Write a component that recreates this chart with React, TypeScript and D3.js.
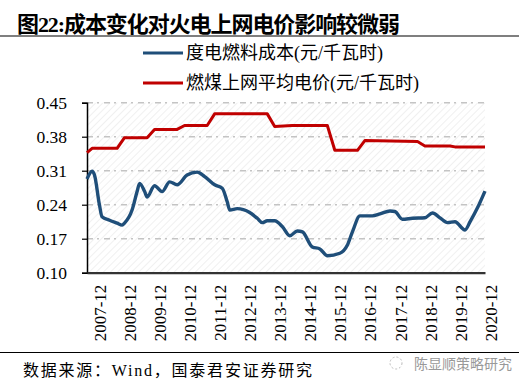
import { useEffect, useRef } from 'react';
import * as d3 from 'd3';

const W = 523;
const H = 388;

const title = '图22:成本变化对火电上网电价影响较微弱';
const source = '数据来源：Wind，国泰君安证券研究';
const watermark = '陈显顺策略研究';

const seriesNames = ['度电燃料成本(元/千瓦时)', '燃煤上网平均电价(元/千瓦时)'];
const seriesColors = ['#1F4E79', '#C00000'];

const yTicks = [0.1, 0.17, 0.24, 0.31, 0.38, 0.45];
const xTickLabels = [
  '2007-12', '2008-12', '2009-12', '2010-12', '2011-12', '2012-12', '2013-12',
  '2014-12', '2015-12', '2016-12', '2017-12', '2018-12', '2019-12', '2020-12',
];

// 度电燃料成本
const fuelDates = [
  '2007-12', '2008-02', '2008-03', '2008-05', '2008-06', '2008-09', '2008-12',
  '2009-02', '2009-03', '2009-06', '2009-08', '2009-09', '2009-11', '2009-12',
  '2010-03', '2010-06', '2010-09', '2010-12', '2011-04', '2011-08', '2011-11',
  '2012-03', '2012-06', '2012-08', '2012-09', '2012-12', '2013-05', '2013-08',
  '2013-10', '2013-12', '2014-03', '2014-06', '2014-09', '2014-12', '2015-02',
  '2015-06', '2015-09', '2015-12', '2016-05', '2016-08', '2016-10', '2017-01',
  '2017-06', '2017-09', '2018-01', '2018-03', '2018-06', '2018-10', '2019-03',
  '2019-06', '2019-09', '2019-12', '2020-03', '2020-07', '2020-09', '2020-12',
  '2021-03',
];
const fuelValues = [
  0.293, 0.309, 0.301, 0.239, 0.215, 0.208, 0.202,
  0.198, 0.202, 0.229, 0.267, 0.284, 0.267, 0.256,
  0.279, 0.267, 0.287, 0.281, 0.301, 0.307, 0.298,
  0.281, 0.274, 0.246, 0.229, 0.232, 0.224, 0.212,
  0.203, 0.207, 0.207, 0.195, 0.176, 0.186, 0.184,
  0.153, 0.149, 0.135, 0.14, 0.157, 0.184, 0.217,
  0.217, 0.221, 0.227, 0.226, 0.21, 0.212, 0.213,
  0.223, 0.213, 0.203, 0.205, 0.188, 0.205, 0.234,
  0.268,
];

// 燃煤上网平均电价
const priceDates = [
  '2007-12', '2008-02', '2008-12', '2009-03', '2009-12', '2010-03', '2010-12',
  '2011-03', '2011-12', '2012-03', '2013-12', '2014-03', '2014-10', '2015-12',
  '2016-03', '2016-12', '2017-03', '2018-12', '2019-03', '2020-01', '2020-03',
  '2021-03',
];
const priceValues = [
  0.347, 0.356, 0.356, 0.378, 0.378, 0.395, 0.395,
  0.403, 0.403, 0.427, 0.427, 0.401, 0.403, 0.403,
  0.352, 0.352, 0.372, 0.37, 0.361, 0.361, 0.359,
  0.359,
];

const parse = d3.timeParse('%Y-%m');
const serif = '"Liberation Serif", "Times New Roman", "Noto Sans CJK SC", serif';
const cjk = '"Liberation Serif", "Noto Sans CJK SC", serif';

export default function App() {
  const svgRef = useRef<SVGSVGElement>(null);

  useEffect(() => {
    if (!svgRef.current) return;
    const svg = d3.select(svgRef.current);
    svg.selectAll('*').remove();

    const left = 87;
    const right = 485;
    const top = 102.7;
    const bottom = 272.7;

    const x = d3
      .scaleTime()
      .domain([parse('2007-12') as Date, parse('2021-03') as Date])
      .range([left, right]);
    const y = d3.scaleLinear().domain([0.1, 0.45]).range([bottom, top]);

    // hatch pattern for the plot background
    const defs = svg.append('defs');
    const pat = defs
      .append('pattern')
      .attr('id', 'hatch')
      .attr('patternUnits', 'userSpaceOnUse')
      .attr('width', 5)
      .attr('height', 5)
      .attr('patternTransform', 'rotate(45)');
    pat
      .append('line')
      .attr('x1', 0)
      .attr('y1', 0)
      .attr('x2', 0)
      .attr('y2', 5)
      .attr('stroke', '#e9e9e9')
      .attr('stroke-width', 1.4);

    svg.append('rect').attr('width', W).attr('height', H).attr('fill', '#fff');

    // title
    svg
      .append('text')
      .attr('x', 17)
      .attr('y', 32)
      .attr('font-family', cjk)
      .attr('font-size', 22)
      .attr('font-weight', 'bold')
      .attr('fill', '#000')
      .attr('textLength', 383)
      .text(title);

    svg
      .append('line')
      .attr('x1', 0)
      .attr('x2', 519)
      .attr('y1', 36)
      .attr('y2', 36)
      .attr('stroke', '#000')
      .attr('stroke-width', 1.2);

    // legend
    seriesNames.forEach((name, i) => {
      const ly = 53 + i * 30;
      svg
        .append('line')
        .attr('x1', 143)
        .attr('x2', 183)
        .attr('y1', ly)
        .attr('y2', ly)
        .attr('stroke', seriesColors[i])
        .attr('stroke-width', 3);
      svg
        .append('text')
        .attr('x', 186)
        .attr('y', ly + 6)
        .attr('font-family', cjk)
        .attr('font-size', 18)
        .attr('fill', '#000')
        .text(name);
    });

    // plot background
    svg
      .append('rect')
      .attr('x', left)
      .attr('y', top)
      .attr('width', right - left)
      .attr('height', bottom - top)
      .attr('fill', 'url(#hatch)');

    // gridlines
    svg
      .append('g')
      .selectAll('line')
      .data(yTicks.slice(1))
      .enter()
      .append('line')
      .attr('x1', left)
      .attr('x2', right)
      .attr('y1', (d) => y(d))
      .attr('y2', (d) => y(d))
      .attr('stroke', '#c4c4c4')
      .attr('stroke-width', 1.6)
      .attr('stroke-dasharray', '6,4,2,5');

    // y axis
    const yAxis = svg
      .append('g')
      .attr('transform', `translate(${left},0)`)
      .call(
        d3
          .axisLeft(y)
          .tickValues(yTicks)
          .tickSize(5)
          .tickPadding(15)
          .tickFormat((d) => d3.format('.2f')(d as number))
      );
    yAxis.select('.domain').attr('stroke', '#000').attr('stroke-width', 1.5);
    yAxis.selectAll('.tick line').attr('stroke', '#000').attr('stroke-width', 1.2);
    yAxis
      .selectAll('.tick text')
      .attr('font-family', serif)
      .attr('font-size', 17.5)
      .attr('fill', '#000');

    // x axis
    const xAxis = svg
      .append('g')
      .attr('transform', `translate(0,${bottom})`)
      .call(
        d3
          .axisBottom(x)
          .tickValues(xTickLabels.map((s) => parse(s) as Date))
          .tickSize(0)
          .tickFormat((d) => d3.timeFormat('%Y-%m')(d as Date))
      );
    xAxis.select('.domain').attr('stroke', '#333').attr('stroke-width', 2.2);
    xAxis
      .selectAll('.tick text')
      .attr('font-family', serif)
      .attr('font-size', 17)
      .attr('fill', '#000')
      .attr('transform', 'rotate(-90)')
      .attr('text-anchor', 'end')
      .attr('dominant-baseline', 'central')
      .attr('x', -12)
      .attr('y', 1);

    // lines
    const fuel = fuelDates.map((d, i) => ({ date: parse(d) as Date, value: fuelValues[i] }));
    const price = priceDates.map((d, i) => ({ date: parse(d) as Date, value: priceValues[i] }));

    const fuelLine = d3
      .line<{ date: Date; value: number }>()
      .x((d) => x(d.date))
      .y((d) => y(d.value))
      .curve(d3.curveMonotoneX);
    const priceLine = d3
      .line<{ date: Date; value: number }>()
      .x((d) => x(d.date))
      .y((d) => y(d.value));

    svg
      .append('path')
      .datum(price)
      .attr('fill', 'none')
      .attr('stroke', seriesColors[1])
      .attr('stroke-width', 3)
      .attr('stroke-linejoin', 'round')
      .attr('d', priceLine);

    svg
      .append('path')
      .datum(fuel)
      .attr('fill', 'none')
      .attr('stroke', seriesColors[0])
      .attr('stroke-width', 3.4)
      .attr('stroke-linejoin', 'round')
      .attr('d', fuelLine);

    // bottom rule + source
    svg
      .append('line')
      .attr('x1', 0)
      .attr('x2', 519)
      .attr('y1', 352.5)
      .attr('y2', 352.5)
      .attr('stroke', '#000')
      .attr('stroke-width', 1.2);

    svg
      .append('text')
      .attr('x', 23)
      .attr('y', 376)
      .attr('font-family', cjk)
      .attr('font-size', 16)
      .attr('fill', '#000')
      .attr('textLength', 289)
      .text(source);

    // watermark
    svg
      .append('circle')
      .attr('cx', 396)
      .attr('cy', 363)
      .attr('r', 6)
      .attr('fill', 'none')
      .attr('stroke', '#bbb')
      .attr('stroke-dasharray', '2,2');
    svg
      .append('text')
      .attr('x', 414)
      .attr('y', 369)
      .attr('font-family', '"Noto Sans CJK SC", sans-serif')
      .attr('font-size', 14)
      .attr('fill', '#999')
      .text(watermark);
  }, []);

  return (
    <svg
      ref={svgRef}
      width={W}
      height={H}
      style={{ position: 'absolute', left: 0, top: 0 }}
    />
  );
}
